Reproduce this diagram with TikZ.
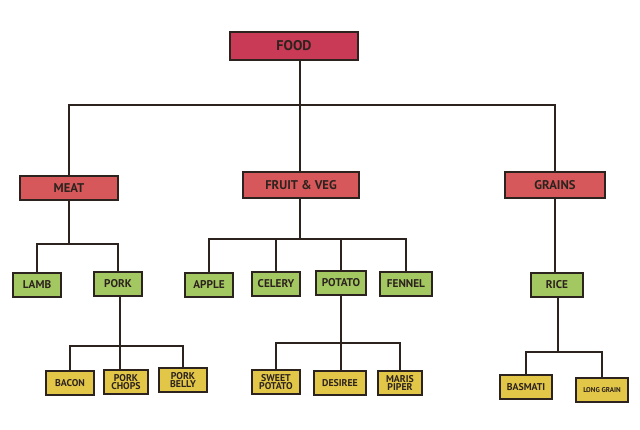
\documentclass[tikz,border=0pt]{standalone}
\usepackage{fontspec}
\setsansfont{PT Sans}
\definecolor{foodred}{RGB}{200,58,86}
\definecolor{catred}{RGB}{214,88,90}
\definecolor{leafgreen}{RGB}{163,200,98}
\definecolor{leafyellow}{RGB}{226,198,72}
\definecolor{ink}{RGB}{45,35,30}

\begin{document}
\begin{tikzpicture}[
    x=0.025cm, y=-0.025cm,
    box/.style={rectangle, draw=ink, line width=1.5pt, inner sep=1pt,
        text=ink, font=\sffamily\bfseries\footnotesize, align=center},
    top/.style={box, fill=foodred, minimum width=3.2cm, minimum height=0.7cm,
        font=\sffamily\bfseries\normalsize},
    cat/.style={box, fill=catred, font=\sffamily\bfseries\small},
    veg/.style={box, fill=leafgreen, minimum width=1.2cm, minimum height=0.62cm},
    kind/.style={box, fill=leafyellow, minimum width=1.2cm, minimum height=0.62cm,
        font=\sffamily\bfseries\scriptsize, inner sep=0.5pt},
    edge/.style={draw=ink, line width=1.3pt, -}
]
    \useasboundingbox (0,0) rectangle (640,429);
    \node[top] (food) at (294,46) {FOOD};
    \node[cat, minimum width=2.45cm, minimum height=0.6cm] (meat) at (69,188) {MEAT};
    \node[cat, minimum width=2.9cm, minimum height=0.65cm] (fruit) at (301,185) {FRUIT \& VEG};
    \node[cat, minimum width=2.5cm, minimum height=0.65cm] (grains) at (555,185) {GRAINS};
    \node[veg] (lamb) at (37,285) {LAMB};
    \node[veg] (pork) at (118,284) {PORK};
    \node[veg] (apple) at (209,285) {APPLE};
    \node[veg] (celery) at (276,284) {CELERY};
    \node[veg, minimum width=1.25cm] (potato) at (341,283) {POTATO};
    \node[veg, minimum width=1.32cm] (fennel) at (406,284) {FENNEL};
    \node[veg, minimum width=1.32cm] (rice) at (557,285) {RICE};
    \node[kind] (bacon) at (70,383) {BACON};
    \node[kind, minimum width=1.12cm] (chops) at (126,382) {PORK\\[-2pt]CHOPS};
    \node[kind, minimum width=1.18cm] (belly) at (183,380) {PORK\\[-2pt]BELLY};
    \node[kind] (sweet) at (276,382) {SWEET\\[-2pt]POTATO};
    \node[kind, minimum width=1.3cm] (desiree) at (340,383) {DESIREE};
    \node[kind, minimum width=1.12cm] (maris) at (400,383) {MARIS\\[-2pt]PIPER};
    \node[kind, minimum width=1.3cm] (basmati) at (526,387) {BASMATI};
    \node[kind, minimum width=1.32cm, font=\sffamily\bfseries\tiny] (longgrain) at (602,390) {LONG GRAIN};
    % bar junctions
    \coordinate (foodbar) at (300,105);
    \coordinate (meatbar) at (69,244);
    \coordinate (fruitbar) at (300,239);
    \coordinate (porkbar) at (120,346);
    \coordinate (potatobar) at (341,343);
    \coordinate (ricebar) at (558,352);
    \draw[edge] (food.south -| foodbar) -- (foodbar);
    \draw[edge] (foodbar) -| (meat.north);
    \draw[edge] (foodbar) -- (fruit.north -| foodbar);
    \draw[edge] (foodbar) -| (grains.north);
    \draw[edge] (meat.south) -- (meatbar);
    \draw[edge] (meatbar) -| (lamb.north);
    \draw[edge] (meatbar) -| (pork.north);
    \draw[edge] (fruit.south -| fruitbar) -- (fruitbar);
    \draw[edge] (fruitbar) -| (apple.north);
    \draw[edge] (fruitbar) -| (celery.north);
    \draw[edge] (fruitbar) -| (potato.north);
    \draw[edge] (fruitbar) -| (fennel.north);
    \draw[edge] (grains.south) -- (rice.north -| grains.south);
    \draw[edge] (pork.south -| porkbar) -- (porkbar);
    \draw[edge] (porkbar) -| (bacon.north);
    \draw[edge] (porkbar) -- (chops.north -| porkbar);
    \draw[edge] (porkbar) -| (belly.north);
    \draw[edge] (potato.south) -- (potatobar);
    \draw[edge] (potatobar) -| (sweet.north);
    \draw[edge] (potatobar) -- (desiree.north -| potatobar);
    \draw[edge] (potatobar) -| (maris.north);
    \draw[edge] (rice.south -| ricebar) -- (ricebar);
    \draw[edge] (ricebar) -| (basmati.north);
    \draw[edge] (ricebar) -| (longgrain.north);
\end{tikzpicture}
\end{document}
